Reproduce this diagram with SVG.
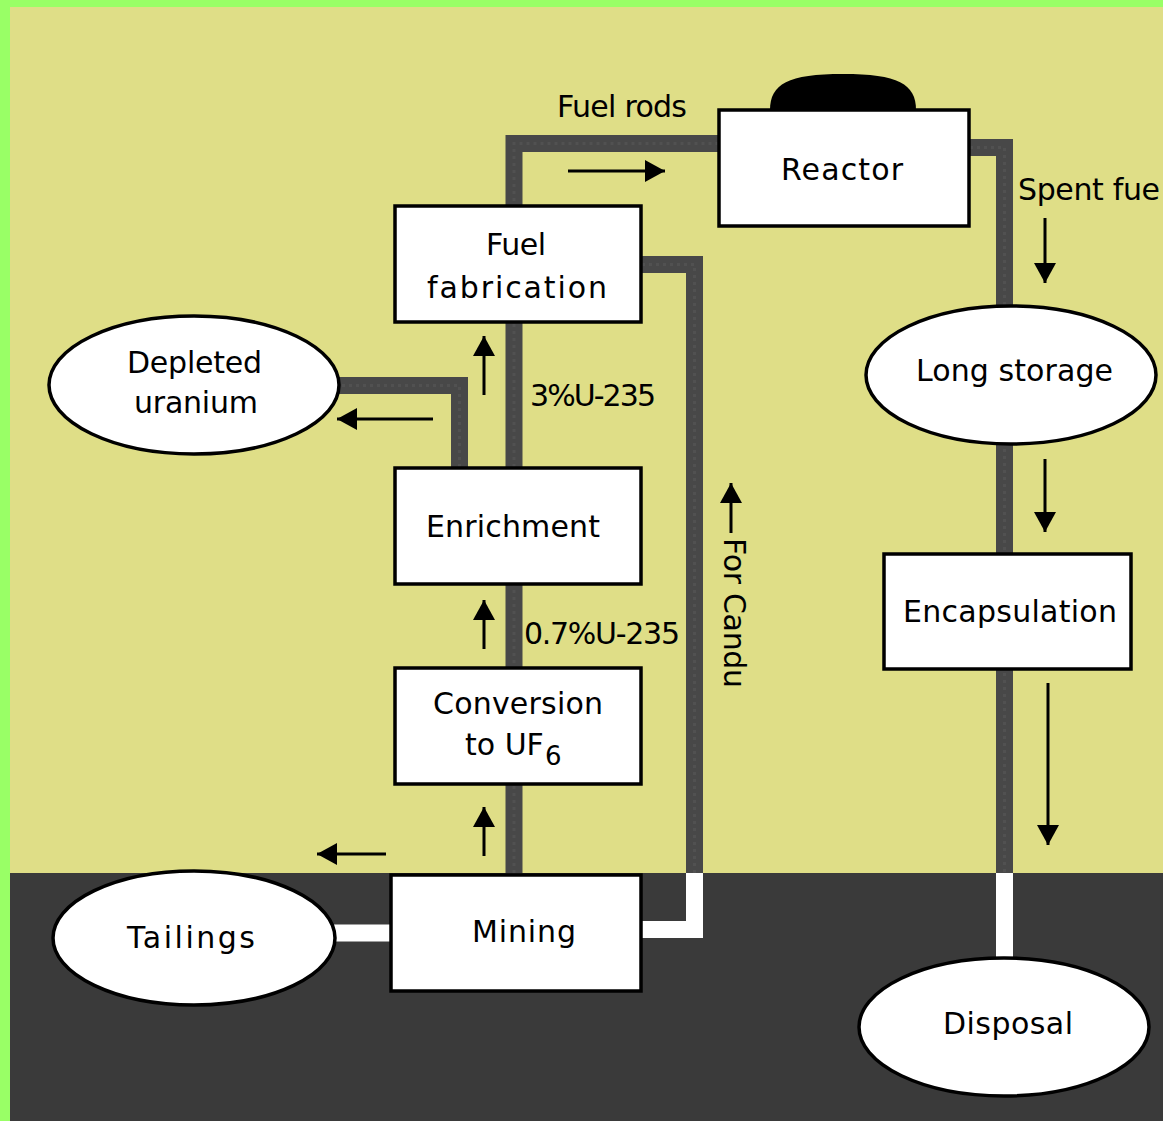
<svg xmlns="http://www.w3.org/2000/svg" width="1163" height="1121" viewBox="0 0 1163 1121">
<style>
.box{fill:#fff;stroke:#000;stroke-width:3.5}
.ell{fill:#fff;stroke:#000;stroke-width:3.5}
.pipe{fill:none;stroke:#484848;stroke-width:17;stroke-linejoin:miter;stroke-linecap:butt}
.pipedot{fill:none;stroke:#515151;stroke-width:3;stroke-dasharray:3 4}
.wpipe{fill:none;stroke:#fff;stroke-width:17;stroke-linejoin:miter;stroke-linecap:butt}
.arr{fill:none;stroke:#000;stroke-width:3;marker-end:url(#ah)}
text{font-family:"DejaVu Sans","Liberation Sans",sans-serif;font-size:30px;fill:#000}
</style>
<defs>
<marker id="ah" markerUnits="userSpaceOnUse" viewBox="-1 -13 22 26" refX="20" refY="0" markerWidth="22" markerHeight="26" orient="auto">
<path d="M0,-11 L20,0 L0,11 Z" fill="#000"/>
</marker>
</defs>
<rect x="0" y="0" width="1163" height="1121" fill="#99FF66"/>
<rect x="10" y="7" width="1153" height="866" fill="#DFDE87"/>
<rect x="10" y="873" width="1153" height="248" fill="#3A3A3A"/>

<g id="connectors">
<path class="pipe" d="M514,873 V143.5 H718"/>
<path class="pipedot" d="M514,873 V143.5 H718"/>
<path class="pipe" d="M970,147.5 H1004.5 V873"/>
<path class="pipedot" d="M970,147.5 H1004.5 V873"/>
<path class="pipe" d="M642,264.5 H694.5 V873"/>
<path class="pipedot" d="M642,264.5 H694.5 V873"/>
<path class="pipe" d="M459.5,467 V385.5 H336"/>
<path class="pipedot" d="M459.5,467 V385.5 H336"/>
<path class="wpipe" d="M1004.5,873 V960"/>
<path class="wpipe" d="M694.5,873 V929.5 H642"/>
<path class="wpipe" d="M334,933 H392"/>
<line class="arr" x1="568" y1="171" x2="665" y2="171"/>
<line class="arr" x1="1045" y1="218" x2="1045" y2="283"/>
<line class="arr" x1="1045" y1="459" x2="1045" y2="532"/>
<line class="arr" x1="1048" y1="683" x2="1048" y2="845"/>
<line class="arr" x1="484" y1="395" x2="484" y2="336"/>
<line class="arr" x1="433" y1="419" x2="337" y2="419"/>
<line class="arr" x1="484" y1="649" x2="484" y2="600"/>
<line class="arr" x1="484" y1="856" x2="484" y2="807"/>
<line class="arr" x1="386" y1="854" x2="317" y2="854"/>
<line class="arr" x1="731" y1="533" x2="731" y2="483"/>
<text x="557" y="117" textLength="130" lengthAdjust="spacing">Fuel rods</text>
<text x="1018" y="200" textLength="142" lengthAdjust="spacing">Spent fue</text>
<text x="530" y="406" textLength="126" lengthAdjust="spacing">3%U-235</text>
<text x="524" y="644" textLength="156" lengthAdjust="spacing">0.7%U-235</text>
<text transform="translate(724,538) rotate(90)" textLength="150" lengthAdjust="spacing">For Candu</text>
</g>

<g id="reactor">
<path d="M770,110 C770,84 788,74 843,74 C898,74 916,84 916,110 Z" fill="#000"/>
<rect class="box" x="719" y="110" width="250" height="116"/>
<text x="781" y="180" textLength="122" lengthAdjust="spacing">Reactor</text>
</g>

<g id="fuel-fabrication">
<rect class="box" x="395" y="206" width="246" height="116"/>
<text x="486" y="255" textLength="60" lengthAdjust="spacing">Fuel</text>
<text x="427" y="298" textLength="180" lengthAdjust="spacing">fabrication</text>
</g>

<g id="enrichment">
<rect class="box" x="395" y="468" width="246" height="116"/>
<text x="426" y="537" textLength="174" lengthAdjust="spacing">Enrichment</text>
</g>

<g id="conversion">
<rect class="box" x="395" y="668" width="246" height="116"/>
<text x="433" y="714" textLength="170" lengthAdjust="spacing">Conversion</text>
<text><tspan x="465" y="755">to UF</tspan><tspan x="545" y="765" style="font-size:26px">6</tspan></text>
</g>

<g id="mining">
<rect class="box" x="391" y="875" width="250" height="116"/>
<text x="472" y="942" textLength="104" lengthAdjust="spacing">Mining</text>
</g>

<g id="encapsulation">
<rect class="box" x="884" y="554" width="247" height="115"/>
<text x="903" y="622" textLength="214" lengthAdjust="spacing">Encapsulation</text>
</g>

<g id="depleted-uranium">
<ellipse class="ell" cx="194" cy="385" rx="145" ry="69"/>
<text x="127" y="373" textLength="135" lengthAdjust="spacing">Depleted</text>
<text x="134" y="413" textLength="124" lengthAdjust="spacing">uranium</text>
</g>

<g id="tailings">
<ellipse class="ell" cx="194" cy="938" rx="141" ry="67"/>
<text x="127" y="948" textLength="128" lengthAdjust="spacing">Tailings</text>
</g>

<g id="long-storage">
<ellipse class="ell" cx="1011" cy="375" rx="145" ry="69"/>
<text x="916" y="381" textLength="197" lengthAdjust="spacing">Long storage</text>
</g>

<g id="disposal">
<ellipse class="ell" cx="1004" cy="1027" rx="145" ry="69"/>
<text x="943" y="1034" textLength="130" lengthAdjust="spacing">Disposal</text>
</g>
</svg>
